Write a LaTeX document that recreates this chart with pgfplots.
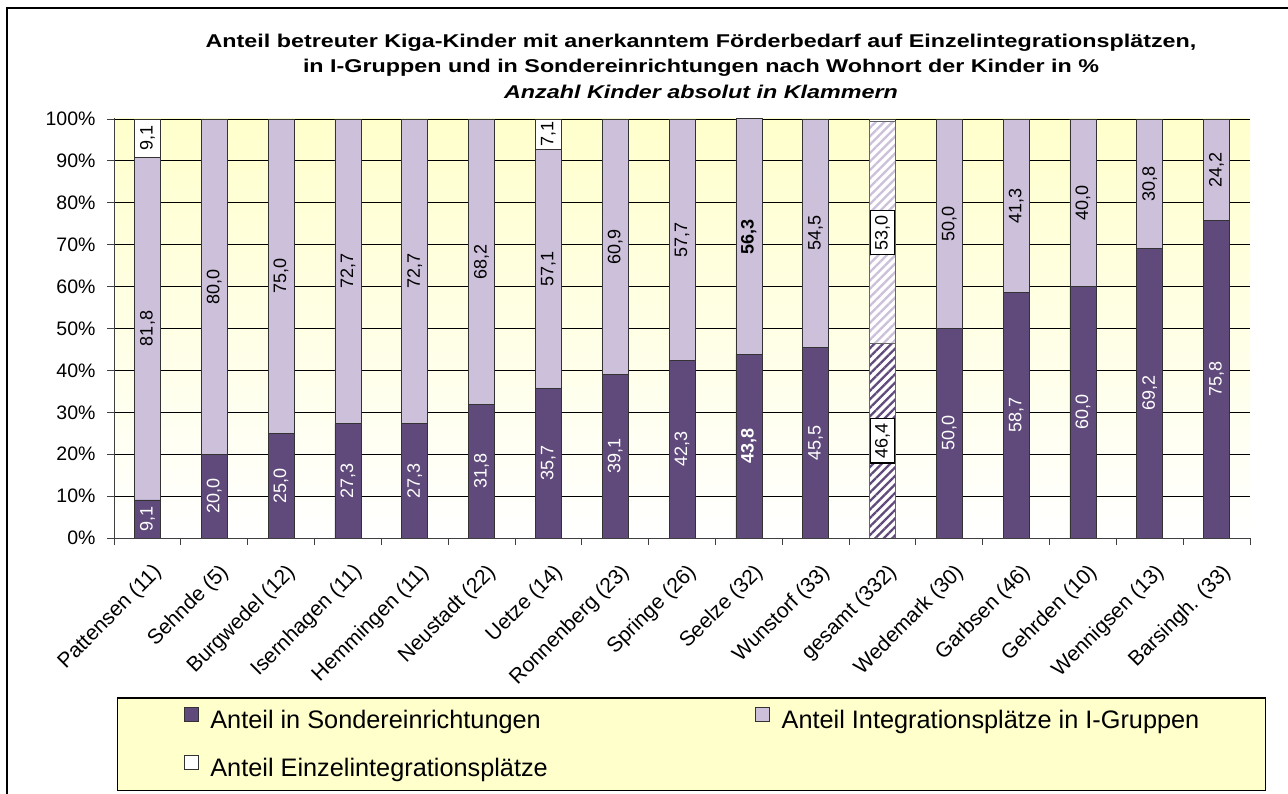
\documentclass[border=0pt]{standalone}
\usepackage{pgfplots}
\pgfplotsset{compat=1.18}
\usepackage{pgfplotstable}
\usepackage{fontspec}
\setmainfont{Liberation Sans}
\usetikzlibrary{patterns.meta}
\definecolor{dpurple}{RGB}{96,74,123}
\definecolor{lpurple}{RGB}{204,192,218}
\definecolor{bgyellow}{RGB}{255,255,204}

\pgfplotstableread{
x dark darkh light lighth white
0 9.1 0 81.8 0 9.1
1 20.0 0 80.0 0 0
2 25.0 0 75.0 0 0
3 27.3 0 72.7 0 0
4 27.3 0 72.7 0 0
5 31.8 0 68.2 0 0
6 35.7 0 57.1 0 7.1
7 39.1 0 60.9 0 0
8 42.3 0 57.7 0 0
9 43.8 0 56.3 0 0
10 45.5 0 54.5 0 0
11 0 46.4 0 53.0 0.6
12 50.0 0 50.0 0 0
13 58.7 0 41.3 0 0
14 60.0 0 40.0 0 0
15 69.2 0 30.8 0 0
16 75.8 0 24.2 0 0
}\data

\newcommand{\segnum}{\ifdim\rawx pt=9pt\bfseries\fi\pgfmathprintnumber[fixed,fixed zerofill,precision=1,use comma,assume math mode=true]{\rawy}}
\setlength{\fboxrule}{1.2pt}
\setlength{\fboxsep}{4pt}
\pgfplotsset{
  seg/.style={
    visualization depends on=rawy\as\rawy,
    visualization depends on=rawx\as\rawx,
    nodes near coords={\ifdim\rawy pt>1pt\relax\segnum\fi},
    every node near coord/.style={rotate=90, anchor=center, inner sep=0pt,
      font=\fontsize{18}{18}\selectfont, text=#1},
  },
  segbox/.style={
    visualization depends on=rawy\as\rawy,
    visualization depends on=rawx\as\rawx,
    nodes near coords={\ifdim\rawy pt>1pt\relax\fcolorbox{black}{white}{\segnum}\fi},
    every node near coord/.style={rotate=90, anchor=center, inner sep=0pt,
      font=\fontsize{18}{18}\selectfont, text=black},
  },
}

\begin{document}
\begin{tikzpicture}[x=1pt,y=1pt]
\path[use as bounding box, fill=white] (0pt,0pt) rectangle (1288pt,794pt);
\draw[black, line width=1.5pt] (7pt,-10pt) -- (7pt,786pt) -- (1300pt,786pt);
\node[align=center, xscale=1.26, font=\bfseries\fontsize{18.5}{25.5}\selectfont] at (701pt,728pt)
  {Anteil betreuter Kiga-Kinder mit anerkanntem Förderbedarf auf Einzelintegrationsplätzen,\\
   in I-Gruppen und in Sondereinrichtungen nach Wohnort der Kinder in \%\\
   \textit{Anzahl Kinder absolut in Klammern}};
\begin{axis}[
  at={(114pt,256pt)}, anchor=south west,
  scale only axis, width=1136pt, height=419.84pt,
  ybar stacked, bar width=26pt,
  xmin=-0.5, xmax=16.5, ymin=0, ymax=100.2,
  axis x line*=bottom, axis y line*=left,
  axis line style={draw=black!75, line width=0.8pt},
  axis background/.style={top color=bgyellow, bottom color=white},
  ymajorgrids, grid style={black, line width=0.8pt},
  tick align=outside, major tick length=7pt, minor tick length=7pt,
  tick style={draw=black!75, line width=0.8pt},
  major x tick style={draw=none},
  xtick={0,...,16},
  minor xtick={-0.5,0.5,...,16.5},
  xticklabels={Pattensen (11),Sehnde (5),Burgwedel (12),Isernhagen (11),Hemmingen (11),Neustadt (22),Uetze (14),Ronnenberg (23),Springe (26),Seelze (32),Wunstorf (33),gesamt (332),Wedemark (30),Garbsen (46),Gehrden (10),Wennigsen (13),Barsingh. (33)},
  xticklabel style={xshift=4pt, yshift=-17pt, rotate=45, anchor=north east, inner sep=0pt, font=\fontsize{21}{21}\selectfont},
  ytick={0,10,...,100},
  yticklabels={0\%,10\%,20\%,30\%,40\%,50\%,60\%,70\%,80\%,90\%,100\%},
  yticklabel style={xshift=-8pt, font=\fontsize{19.5}{20}\selectfont},
  legend columns=2,
  legend style={at={(axis description cs:0.0026,-0.3795)}, anchor=north west,
    draw=black, line width=1.2pt, fill=bgyellow, inner xsep=66pt, inner ysep=9pt,
    font=\fontsize{25.3}{25.3}\selectfont, row sep=21pt,
    nodes={inner sep=0pt, text height=18pt, text depth=5pt, line width=0.8pt},
    /tikz/every odd column/.append style={column sep=12pt},
    /tikz/column 2/.append style={column sep=207pt}},
  legend cell align=left,
  legend image code/.code={\draw[#1, draw=black!80, line width=0.8pt] (0pt,1pt) rectangle (14pt,15pt);},
]
\addplot[fill=dpurple, draw=black!80, line width=0.6pt, seg=white] table[x=x,y=dark] {\data};
\addplot[fill=white, draw=black!60, line width=0.6pt,
  postaction={pattern={Lines[angle=45,distance=6pt,line width=2.3pt]}, pattern color=dpurple},
  segbox] table[x=x,y=darkh] {\data};
\addplot[fill=lpurple, draw=black!80, line width=0.6pt, seg=black] table[x=x,y=light] {\data};
\addplot[fill=white, draw=black!60, line width=0.6pt,
  postaction={pattern={Lines[angle=45,distance=6pt,line width=2.3pt]}, pattern color=lpurple},
  segbox] table[x=x,y=lighth] {\data};
\addplot[fill=white, draw=black!80, line width=0.6pt, seg=black] table[x=x,y=white] {\data};
\legend{Anteil in Sondereinrichtungen,,Anteil Integrationsplätze in I-Gruppen,,Anteil Einzelintegrationsplätze}
\end{axis}
\end{tikzpicture}
\end{document}
